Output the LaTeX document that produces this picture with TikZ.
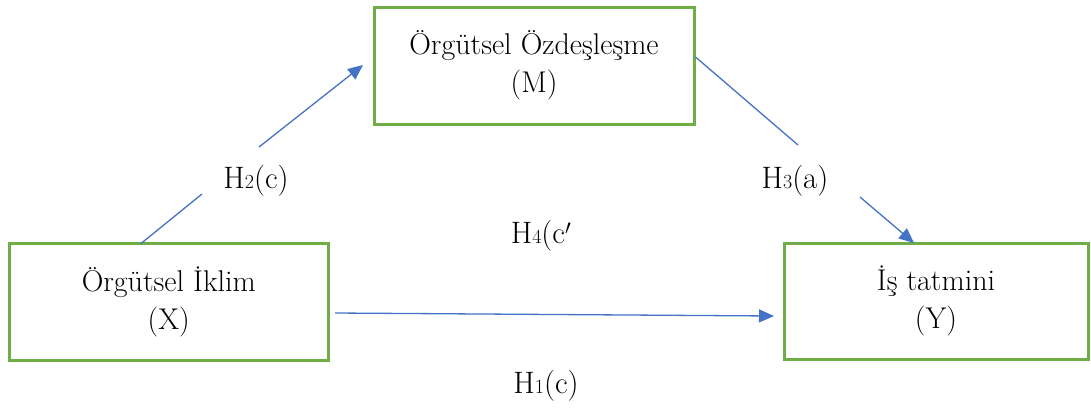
\documentclass[tikz,border=0pt]{standalone}
\usepackage{fontspec}
\usetikzlibrary{arrows.meta}
\definecolor{boxgreen}{HTML}{70AD47}
\definecolor{arrowblue}{HTML}{4472C4}
\begin{document}
\begin{tikzpicture}[x=1pt,y=-1pt,
  box/.style={draw=boxgreen,line width=3pt,fill=white,align=center,inner sep=0pt,
    font=\fontsize{30}{38}\selectfont},
  conn/.style={draw=arrowblue,line width=1.3pt},
  arr/.style={conn,-{Triangle[length=15pt,width=13pt]}},
  lbl/.style={inner sep=0pt,font=\fontsize{31}{34}\selectfont}]
\useasboundingbox (0,0) rectangle (1091,408);
\node[box,minimum width=320pt,minimum height=117pt] (M) at (534,65.5) {Örgütsel Özdeşleşme\\(M)};
\node[box,minimum width=318.5pt,minimum height=117pt] (X) at (168.75,301.5) {Örgütsel İklim\\(X)};
\node[box,minimum width=304pt,minimum height=116pt] (Y) at (936,301) {İş tatmini\\(Y)};
% labels
\newcommand{\subdig}[1]{{\fontsize{20}{20}\selectfont #1}}
\node[lbl] (h2) at (256,181) {H\subdig{2}(c)};
\node[lbl] (h4) at (541,236) {H\subdig{4}(c$'$};
\node[lbl] (h3) at (795,181) {H\subdig{3}(a)};
\node[lbl] (h1) at (546,386) {H\subdig{1}(c)};
% gap coordinates
\coordinate (a1s) at (141,243.5);
\coordinate (a1g1) at (202,194);
\coordinate (a1g2) at (259,147);
\coordinate (a1e) at (363,65);
\coordinate (a2g1) at (798,145);
\coordinate (a2g2) at (860,197);
\coordinate (a2e) at (914,243);
\coordinate (a3s) at (335,313);
\coordinate (a3e) at (774,316);
% connectors
\draw[conn] (a1s) -- (a1g1);
\draw[arr] (a1g2) -- (a1e);
\draw[conn] ([yshift=8.5pt]M.east) -- (a2g1);
\draw[arr] (a2g2) -- (a2e);
\draw[arr] (a3s) -- (a3e);
\end{tikzpicture}
\end{document}
